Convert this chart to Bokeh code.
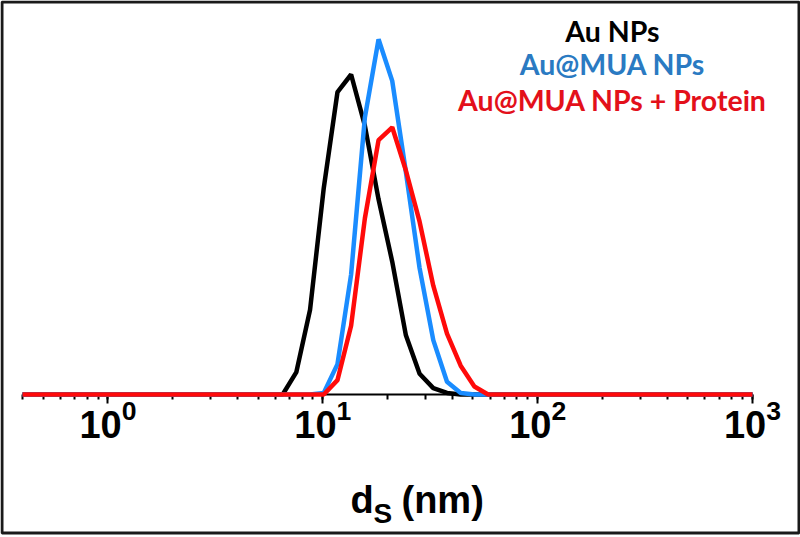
import math
from bokeh.plotting import figure
from bokeh.models import Range1d, Label, LogTicker, BoxAnnotation
from bokeh.embed import file_html
from bokeh.resources import INLINE

# Size bins (nm) and intensity (%)
sizes = [0.4, 5.615, 6.503, 7.531, 8.721, 10.1, 11.7, 13.54, 15.69, 18.17, 21.04,
         24.36, 28.21, 32.67, 37.84, 43.82, 50.75, 58.77, 68.06, 1000]
au_nps = [0, 0, 0, 1.4, 5.3, 12.9, 18.9, 20.0, 16.8, 12.2, 8.3,
          3.7, 1.3, 0.4, 0.1, 0, 0, 0, 0, 0]
au_mua = [0, 0, 0, 0, 0, 0.1, 1.9, 7.5, 17.3, 22.2, 19.6,
          13.9, 7.9, 3.4, 0.8, 0.1, 0, 0, 0, 0]
au_mua_protein = [0, 0, 0, 0, 0, 0, 0.9, 4.3, 11.0, 15.9, 16.7,
                  14.0, 10.8, 6.8, 3.8, 1.8, 0.5, 0, 0, 0]
axis_bounds = (0.4, 1000)

series_names = ["Au NPs", "Au@MUA NPs", "Au@MUA NPs + Protein"]
line_colors = ["#000000", "#1a8cff", "#ff0a0a"]
text_colors = ["#000000", "#2a7ac2", "#e3101a"]

W, H = 800, 537
# pixel placement of the axis inside the full-canvas frame
ax_left_px, ax_right_px, ax_y_px, px_per_unit = 22, 752, 394, 16.0
lo, hi = math.log10(axis_bounds[0]), math.log10(axis_bounds[1])
ppd = (ax_right_px - ax_left_px) / (hi - lo)
x_start = 10 ** (lo - ax_left_px / ppd)
x_end = 10 ** (hi + (W - ax_right_px) / ppd)
y_start = -(H - ax_y_px) / px_per_unit
y_end = ax_y_px / px_per_unit

p = figure(width=W, height=H, x_axis_type="log", output_backend="svg",
           toolbar_location=None, x_range=Range1d(x_start, x_end),
           y_range=Range1d(y_start, y_end),
           min_border_left=0, min_border_right=0, min_border_top=0,
           min_border_bottom=0)
p.outline_line_color = None
p.grid.visible = False
p.yaxis.visible = False

ax = p.xaxis[0]
ax.fixed_location = 0
ax.bounds = axis_bounds
ax.ticker = LogTicker(num_minor_ticks=10)
ax.axis_line_color = "#000000"
ax.axis_line_width = 2
ax.major_tick_line_width = 2
ax.minor_tick_line_width = 2
ax.major_tick_out = 9
ax.major_tick_in = 0
ax.minor_tick_out = 5
ax.minor_tick_in = 0
ax.major_label_text_font = "Liberation Sans"
ax.major_label_text_font_style = "bold"
ax.major_label_text_font_size = "38px"
ax.major_label_text_color = "#000000"
ax.major_label_standoff = -5

for ys, c in zip([au_nps, au_mua, au_mua_protein], line_colors):
    p.line(sizes, ys, line_color=c, line_width=4.5, level="overlay")

# outer frame of the picture
p.add_layout(BoxAnnotation(left=1.5, right=W - 1.5, bottom=4.5, top=H - 1.5,
                           left_units="screen", right_units="screen",
                           bottom_units="screen", top_units="screen",
                           fill_alpha=0, line_color="#1a1a1a", line_alpha=1,
                           line_width=3, level="overlay"))

# legend-like coloured titles
leg_y = [507, 474, 438]
for name, c, yy in zip(series_names, text_colors, leg_y):
    p.add_layout(Label(x=612, y=yy, x_units="screen", y_units="screen", text=name,
                       text_color=c, text_font="Lato", text_font_style="bold",
                       text_font_size="28.5px", text_align="center",
                       text_baseline="middle"))

# axis title d_S (nm)
lab_font = "Liberation Sans"
p.add_layout(Label(x=350, y=38, x_units="screen", y_units="screen", text="d",
                   text_color="#000000",
                   text_font=lab_font, text_font_style="bold", text_font_size="38px",
                   text_baseline="alphabetic", text_align="left"))
p.add_layout(Label(x=373, y=24, x_units="screen", y_units="screen", text="S",
                   text_color="#000000",
                   text_font=lab_font, text_font_style="bold", text_font_size="28px",
                   text_baseline="alphabetic", text_align="left"))
p.add_layout(Label(x=401, y=38, x_units="screen", y_units="screen", text="(nm)",
                   text_color="#000000",
                   text_font=lab_font, text_font_style="bold", text_font_size="38px",
                   text_baseline="alphabetic", text_align="left"))

open("out.html", "w").write(file_html(p, INLINE))
